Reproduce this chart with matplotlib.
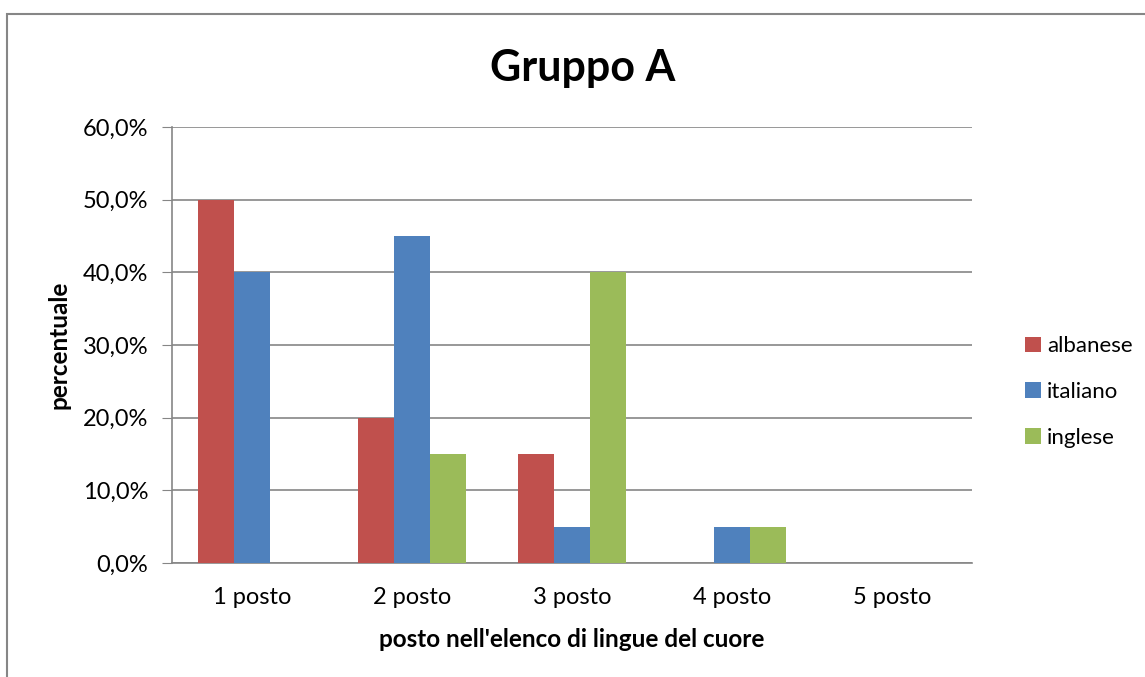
import matplotlib.pyplot as plt
import numpy as np
from matplotlib.patches import Rectangle

plt.rcParams['font.family'] = ['Lato', 'DejaVu Sans']

# Dati
categorie = ['1 posto', '2 posto', '3 posto', '4 posto', '5 posto']
albanese = [50, 20, 15, 0, 0]
italiano = [40, 45, 5, 5, 0]
inglese = [0, 15, 40, 5, 0]
etichette_y = ['0,0%', '10,0%', '20,0%', '30,0%', '40,0%', '50,0%', '60,0%']

colori = ['#C0504D', '#4F81BD', '#9BBB59']
serie = [('albanese', albanese), ('italiano', italiano), ('inglese', inglese)]

fig = plt.figure(figsize=(11.45, 6.77), dpi=100)
ax = fig.add_axes([172/1145, (677-563)/677, 800/1145, 436/677])

x = np.arange(len(categorie))
w = 0.225
for i, (nome, valori) in enumerate(serie):
    ax.bar(x + (i - 1) * w, valori, width=w, color=colori[i], label=nome, zorder=3)

ax.set_xlim(-0.5, len(categorie) - 0.5)
ax.set_ylim(0, 60)
ax.set_yticks(range(0, 61, 10))
ax.set_yticklabels(etichette_y, fontsize=17)
ax.set_xticks(x)
ax.set_xticklabels(categorie, fontsize=17)
ax.tick_params(axis='x', length=0, pad=17)
ax.tick_params(axis='y', length=7, color='#868686', pad=10)
ax.yaxis.grid(True, color='#868686', linewidth=1.2, zorder=0)

for lato in ['top', 'right']:
    ax.spines[lato].set_visible(False)
ax.spines['left'].set_color('#868686')
ax.spines['bottom'].set_color('#868686')
ax.spines['left'].set_linewidth(1.2)
ax.spines['bottom'].set_linewidth(1.2)

ax.set_xlabel("posto nell'elenco di lingue del cuore", fontsize=17.5, fontweight='bold', labelpad=15)
ax.set_ylabel('percentuale', fontsize=17.5, fontweight='bold', labelpad=9)
fig.text(583/1145, 1 - 68/677, 'Gruppo A', fontsize=31, fontweight='bold', ha='center', va='center')

fig.legend(loc='center left', bbox_to_anchor=(1005/1145, 1 - 392/677), frameon=False,
           fontsize=16, handlelength=0.7, handleheight=0.7, handletextpad=0.3, labelspacing=1.15)

# Bordo del grafico
fig.patches.append(Rectangle((7/1145, -0.1), 1.2, 1 - 14/677 + 0.1, transform=fig.transFigure,
                             fill=False, edgecolor='#868686', linewidth=1.5))

fig.savefig('out.png', dpi=100)
